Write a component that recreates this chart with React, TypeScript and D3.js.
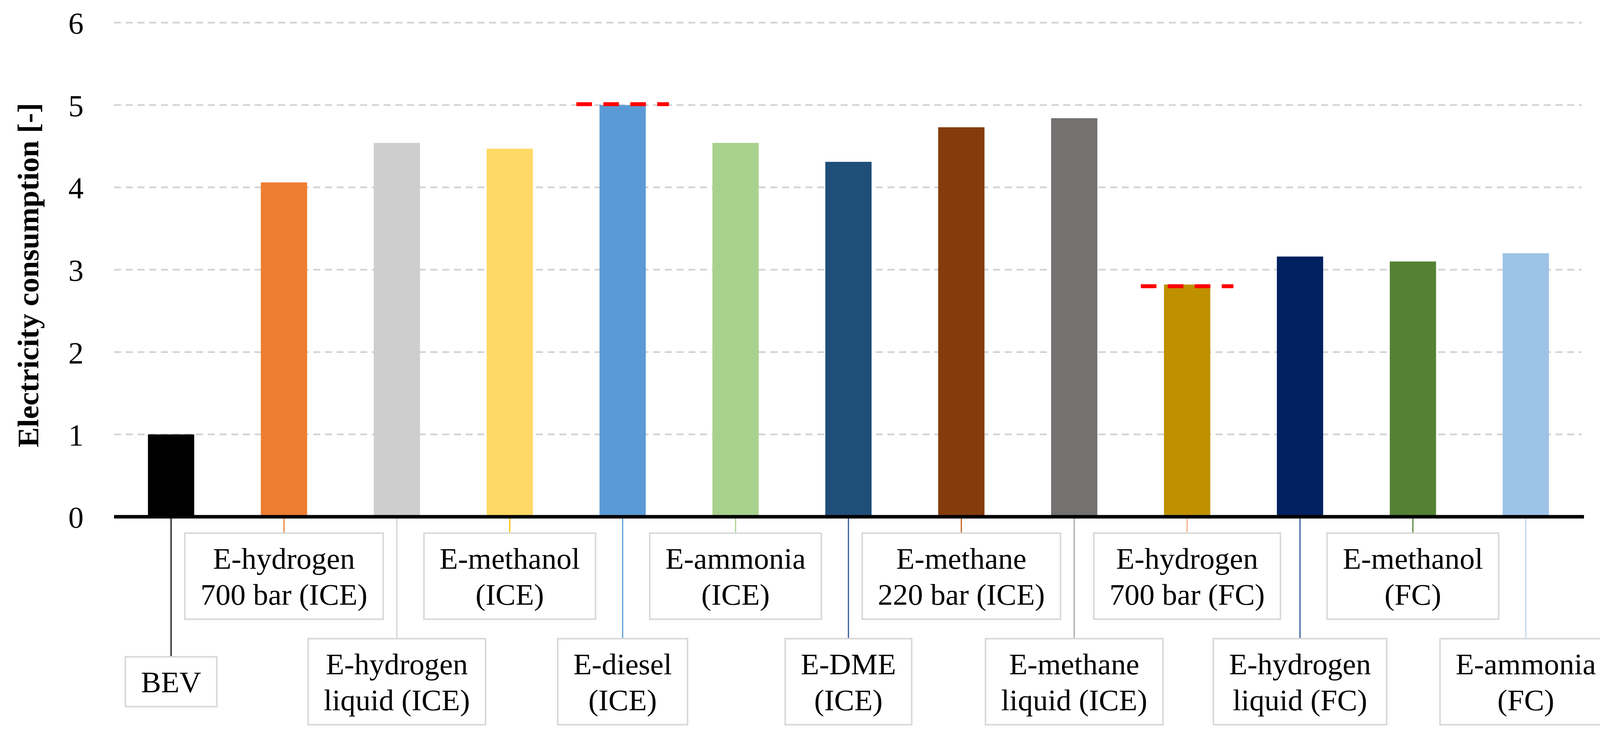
import React, { useRef, useEffect } from 'react';
import * as d3 from 'd3';

// 데이터
const categories = [
  'BEV',
  'E-hydrogen 700 bar (ICE)',
  'E-hydrogen liquid (ICE)',
  'E-methanol (ICE)',
  'E-diesel (ICE)',
  'E-ammonia (ICE)',
  'E-DME (ICE)',
  'E-methane 220 bar (ICE)',
  'E-methane liquid (ICE)',
  'E-hydrogen 700 bar (FC)',
  'E-hydrogen liquid (FC)',
  'E-methanol (FC)',
  'E-ammonia (FC)',
];
const values = [1.0, 4.06, 4.54, 4.47, 5.0, 4.54, 4.31, 4.73, 4.84, 2.82, 3.16, 3.1, 3.2];
const labelLines = [
  ['BEV'],
  ['E-hydrogen', '700 bar (ICE)'],
  ['E-hydrogen', 'liquid (ICE)'],
  ['E-methanol', '(ICE)'],
  ['E-diesel', '(ICE)'],
  ['E-ammonia', '(ICE)'],
  ['E-DME', '(ICE)'],
  ['E-methane', '220 bar (ICE)'],
  ['E-methane', 'liquid (ICE)'],
  ['E-hydrogen', '700 bar (FC)'],
  ['E-hydrogen', 'liquid (FC)'],
  ['E-methanol', '(FC)'],
  ['E-ammonia', '(FC)'],
];
// 빨간 점선 기준값
const refCategories = ['E-diesel (ICE)', 'E-hydrogen 700 bar (FC)'];
const refValues = [5.01, 2.8];
const yTicks = [0, 1, 2, 3, 4, 5, 6];
const yTitle = 'Electricity consumption [-]';

// 색상
const barColors = [
  '#000000', '#ED7D31', '#CFCECE', '#FFD966', '#5B9BD5', '#A9D18E', '#1F4E79',
  '#843C0C', '#767171', '#BF9000', '#002060', '#548235', '#9DC3E6',
];
const leaderColors = [
  '#404040', '#ED7D31', '#D0D0D0', '#FFC000', '#5B9BD5', '#A9D18E', '#2F5597',
  '#C55A11', '#A6A6A6', '#F4B183', '#2F5597', '#548235', '#BDD7EE',
];

const WIDTH = 4157;
const HEIGHT = 1888;
const FONT = '"Liberation Serif", "Times New Roman", serif';

const App: React.FC = () => {
  const svgRef = useRef<SVGSVGElement | null>(null);

  useEffect(() => {
    const svg = d3.select(svgRef.current);
    svg.selectAll('*').remove();

    const left = 292;
    const right = 4052;
    const x = d3
      .scaleBand<string>()
      .domain(categories)
      .range([left, right])
      .paddingInner(0.59)
      .paddingOuter(0.3);
    const y = d3.scaleLinear().domain([0, 6]).range([1322, 58]);
    const bw = x.bandwidth();

    // 그리드
    svg.append('g')
      .selectAll('line')
      .data(yTicks.filter((t) => t > 0))
      .enter()
      .append('line')
      .attr('x1', left)
      .attr('x2', 4049)
      .attr('y1', (d) => y(d))
      .attr('y2', (d) => y(d))
      .attr('stroke', '#D4D4D4')
      .attr('stroke-width', 4.5)
      .attr('stroke-dasharray', '18 12');

    // y 눈금 라벨
    svg.append('g')
      .selectAll('text')
      .data(yTicks)
      .enter()
      .append('text')
      .attr('x', 214)
      .attr('y', (d) => y(d))
      .attr('dy', '0.36em')
      .attr('text-anchor', 'end')
      .attr('font-family', FONT)
      .attr('font-size', 78)
      .attr('fill', '#000')
      .text((d) => d);

    // y 축 제목
    svg.append('text')
      .attr('transform', `translate(98,${(y(0) + y(6)) / 2 + 14}) rotate(-90)`)
      .attr('text-anchor', 'middle')
      .attr('font-family', FONT)
      .attr('font-weight', 'bold')
      .attr('font-size', 77)
      .attr('fill', '#000')
      .text(yTitle);

    // 막대
    svg.append('g')
      .selectAll('rect')
      .data(values)
      .enter()
      .append('rect')
      .attr('x', (_, i) => x(categories[i])!)
      .attr('y', (d) => y(d))
      .attr('width', bw)
      .attr('height', (d) => y(0) - y(d))
      .attr('fill', (_, i) => barColors[i]);

    // 기준 점선
    svg.append('g')
      .selectAll('line')
      .data(refValues)
      .enter()
      .append('line')
      .attr('x1', (_, i) => x(refCategories[i])! + bw / 2 - bw)
      .attr('x2', (_, i) => x(refCategories[i])! + bw / 2 + bw)
      .attr('y1', (d) => y(d))
      .attr('y2', (d) => y(d))
      .attr('stroke', '#FF0000')
      .attr('stroke-width', 10)
      .attr('stroke-dasharray', '40 29');

    // 라벨 박스
    const lh = 92.6;
    const fontSize = 77;
    const topCenter = 1474;
    const bottomCenter = 1744;
    const labels = svg.append('g');
    labelLines.forEach((lines, i) => {
      const cx = x(categories[i])! + bw / 2;
      const cy = i % 2 === 1 ? topCenter : bottomCenter;
      const h = lines.length * lh + 35;
      const g = labels.append('g');
      const box = g.append('rect');
      const texts = lines.map((ln, k) =>
        g.append('text')
          .attr('x', cx)
          .attr('y', cy + (k - (lines.length - 1) / 2) * lh)
          .attr('dy', '0.35em')
          .attr('text-anchor', 'middle')
          .attr('font-family', FONT)
          .attr('font-size', fontSize)
          .attr('fill', '#000')
          .text(ln)
      );
      const tw = d3.max(texts, (t) => (t.node() as SVGTextElement).getComputedTextLength()) ?? 100;
      const w = tw + 80;
      box
        .attr('x', cx - w / 2)
        .attr('y', cy - h / 2)
        .attr('width', w)
        .attr('height', h)
        .attr('fill', '#fff')
        .attr('stroke', '#D9D9D9')
        .attr('stroke-width', 4);
      // 연결선
      svg.insert('line', ':first-child')
        .attr('x1', cx)
        .attr('x2', cx)
        .attr('y1', y(0))
        .attr('y2', cy - h / 2)
        .attr('stroke', leaderColors[i])
        .attr('stroke-width', i === 0 ? 4 : 3);
    });

    // x 축
    svg.append('line')
      .attr('x1', left)
      .attr('x2', 4055)
      .attr('y1', y(0))
      .attr('y2', y(0))
      .attr('stroke', '#000')
      .attr('stroke-width', 9);
  }, []);

  return (
    <svg
      ref={svgRef}
      width={WIDTH}
      height={HEIGHT}
      style={{ position: 'absolute', left: 0, top: 0, background: '#fff' }}
    />
  );
};

export default App;
